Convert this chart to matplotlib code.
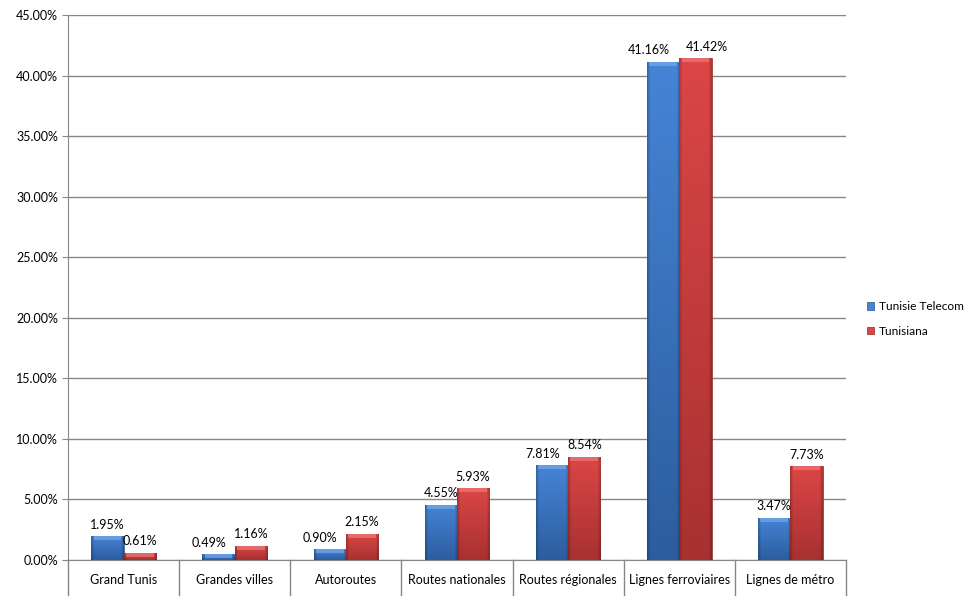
import matplotlib.pyplot as plt
import numpy as np
from matplotlib.colors import to_rgb
from matplotlib.patches import Rectangle

categories = ["Grand Tunis", "Grandes villes", "Autoroutes", "Routes nationales",
              "Routes régionales", "Lignes ferroviaires", "Lignes de métro"]
tunisie_telecom = [1.95, 0.49, 0.90, 4.55, 7.81, 41.16, 3.47]
tunisiana = [0.61, 1.16, 2.15, 5.93, 8.54, 41.42, 7.73]
series_names = ["Tunisie Telecom", "Tunisiana"]

plt.rcParams['font.family'] = ['Lato', 'DejaVu Sans']

fig = plt.figure(figsize=(9.79, 6.12), dpi=100)
ax = fig.add_axes([68/979, 1-560/612, (846-68)/979, (560-15)/612])

px = 45 / 545          # one pixel in data units (y)
w = 0.29
x = np.arange(len(categories))


def bar_image(top, bottom, ncols=32, nrows=120):
    t = np.array(to_rgb(top))
    b = np.array(to_rgb(bottom))
    f = np.linspace(0, 1, nrows).reshape(-1, 1, 1)
    img = t * (1 - f) + b * f
    img = np.repeat(img, ncols, axis=1)
    shade = np.ones(ncols)
    shade[:3] = [0.78, 0.86, 0.94]
    shade[-3:] = [0.94, 0.86, 0.78]
    return np.clip(img * shade.reshape(1, -1, 1), 0, 1)


styles = [("#4684d6", "#2c5d9e", "#7fb0ee", "#24508a"),
          ("#dc4646", "#a83131", "#f08484", "#8a2626")]

for vals, off, (top, bottom, bevel, edge), name in [(tunisie_telecom, -w/2, styles[0], series_names[0]),
                                                    (tunisiana, w/2, styles[1], series_names[1])]:
    bars = ax.bar(x + off, vals, w, color=top, edgecolor=edge, linewidth=0.5,
                  label=name, zorder=3)
    img = bar_image(top, bottom)
    for b in bars:
        bx, bw, bh = b.get_x(), b.get_width(), b.get_height()
        im = ax.imshow(img, aspect="auto", extent=(bx, bx + bw, 0, bh), zorder=3.5,
                       interpolation="bilinear")
        im.set_clip_path(b)
        bev = min(bh, 4 * px)
        ax.add_patch(Rectangle((bx + 0.02, bh - bev), bw - 0.04, bev, color=bevel,
                               alpha=0.6, linewidth=0, zorder=3.6))

# value labels, pushed sideways where the pair would collide (as Excel does)
for i in range(len(categories)):
    a, b = tunisie_telecom[i], tunisiana[i]
    da, db = 0, 0
    if abs(a - b) < 1.3:
        da = -7
        if max(a, b) >= 10:
            da, db = -10, 8
    for v, xo, d in [(a, -w/2, da), (b, w/2, db)]:
        ax.annotate(f"{v:.2f}%", (i + xo, v), xytext=(d, 4), textcoords="offset points",
                    ha="center", va="bottom", fontsize=9, color="#000000", zorder=5)

ax.set_xlim(-0.5, len(categories) - 0.5)
ax.set_ylim(0, 45)
ax.set_yticks(np.arange(0, 46, 5))
ax.set_yticklabels([f"{t:.2f}%" for t in np.arange(0, 46, 5)], fontsize=9)
ax.yaxis.grid(True, color="#868686", linewidth=1, zorder=0)
ax.set_axisbelow(True)
ax.tick_params(axis="y", length=4, color="#868686", pad=3)
ax.set_xticks([])
for s in ["top", "right"]:
    ax.spines[s].set_visible(False)
ax.spines["left"].set_color("#868686")
ax.spines["bottom"].set_color("#868686")

# category separators below the axis
for k in range(len(categories) + 1):
    ax.plot([k - 0.5, k - 0.5], [0, -35 * px], color="#868686", linewidth=1,
            clip_on=False, zorder=2)
for i, c in enumerate(categories):
    ax.text(i, -20 * px, c, ha="center", va="center", fontsize=9)

handles, labels = ax.get_legend_handles_labels()
fig.legend(handles, labels, loc="center left", bbox_to_anchor=(856/979, 1-319/612),
           frameon=False, fontsize=8.6, handlelength=0.6, handleheight=0.6,
           handletextpad=0.4, labelspacing=1.1)

fig.savefig("out.png", dpi=100)
